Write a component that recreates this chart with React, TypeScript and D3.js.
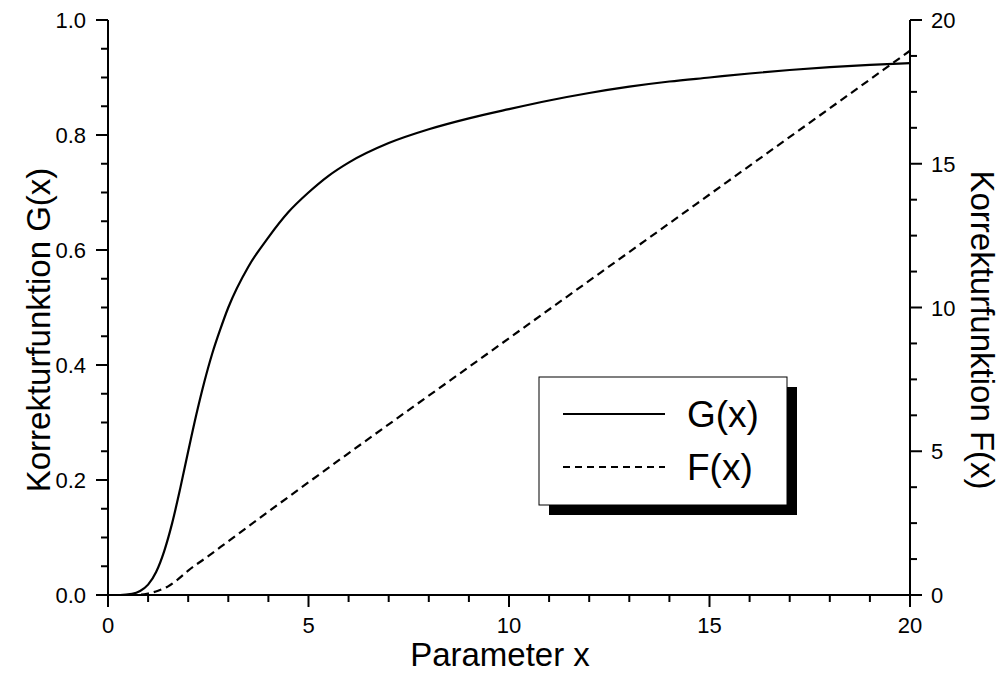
import React from "react";
import * as d3 from "d3";

// G(x)
const gX = [0, 0.3, 0.6, 0.8, 1.0, 1.2, 1.4, 1.6, 1.8, 2.0, 2.2, 2.4, 2.6, 2.8, 3.0, 3.5, 4.0, 4.5, 5.0, 5.5, 6.0, 7.0, 8.0, 9.0, 10, 11, 12, 13, 14, 15, 16, 17, 18, 19, 20];
const gY = [0, 0, 0.002, 0.007, 0.018, 0.04, 0.076, 0.125, 0.185, 0.25, 0.313, 0.37, 0.42, 0.462, 0.5, 0.571, 0.622, 0.666, 0.7, 0.729, 0.752, 0.786, 0.81, 0.829, 0.845, 0.86, 0.873, 0.884, 0.893, 0.9, 0.907, 0.913, 0.918, 0.922, 0.925];

// F(x)
const fX = [0.5, 0.8, 1.0, 1.25, 1.5, 1.75, 2.0, 2.5, 3.0, 4.0, 5.0, 10, 15, 20];
const fY = [0, 0.01, 0.05, 0.15, 0.3, 0.55, 0.85, 1.35, 1.87, 2.9, 3.92, 8.93, 13.93, 18.93];

const xTicks = [0, 5, 10, 15, 20];
const leftTicks = [0, 0.2, 0.4, 0.6, 0.8, 1.0];
const rightTicks = [0, 5, 10, 15, 20];

const legendItems = [
  { label: "G(x)", dash: "none" },
  { label: "F(x)", dash: "7,5" },
];

const FONT = "'Liberation Sans', Arial, Helvetica, sans-serif";

const App = () => {
  const width = 1003;
  const height = 675;
  const left = 108;
  const right = 910;
  const top = 20;
  const bottom = 595;

  const x = d3.scaleLinear().domain([0, 20]).range([left, right]);
  const yL = d3.scaleLinear().domain([0, 1]).range([bottom, top]);
  const yR = d3.scaleLinear().domain([0, 20]).range([bottom, top]);

  const gLine = d3
    .line<number>()
    .x((_, i) => x(gX[i]))
    .y((d) => yL(d))
    .curve(d3.curveMonotoneX);
  const fLine = d3
    .line<number>()
    .x((_, i) => x(fX[i]))
    .y((d) => yR(d))
    .curve(d3.curveMonotoneX);

  const xMinor = d3.range(0, 20.001, 1).filter((v) => v % 5 !== 0);
  const lMinor = d3.range(0, 1.0001, 0.05).filter((v) => Math.abs(v / 0.2 - Math.round(v / 0.2)) > 0.01);
  const rMinor = d3.range(0, 20.001, 1.25).filter((v) => v % 5 !== 0);

  const major = 12;
  const minor = 7;

  // legend box
  const lg = { x: 539, y: 377, w: 248, h: 128, shadow: 10 };

  return (
    <svg
      width={width}
      height={height}
      style={{ position: "absolute", left: 0, top: 0, background: "#fff" }}
      fontFamily={FONT}
    >
      <rect width={width} height={height} fill="#fff" />

      {/* curves */}
      <path d={gLine(gY) ?? ""} fill="none" stroke="#000" strokeWidth={2.2} />
      <path d={fLine(fY) ?? ""} fill="none" stroke="#000" strokeWidth={2.2} strokeDasharray="8,5" />

      {/* axes lines */}
      <g stroke="#000" strokeWidth={2} fill="none">
        <line x1={left} x2={right} y1={bottom} y2={bottom} />
        <line x1={left} x2={left} y1={top} y2={bottom} />
        <line x1={right} x2={right} y1={top} y2={bottom} />
        {xTicks.map((t) => (
          <line key={"xm" + t} x1={x(t)} x2={x(t)} y1={bottom} y2={bottom + major} />
        ))}
        {xMinor.map((t) => (
          <line key={"xn" + t} x1={x(t)} x2={x(t)} y1={bottom} y2={bottom + minor} />
        ))}
        {leftTicks.map((t) => (
          <line key={"lm" + t} x1={left - major} x2={left} y1={yL(t)} y2={yL(t)} />
        ))}
        {lMinor.map((t) => (
          <line key={"ln" + t} x1={left - minor} x2={left} y1={yL(t)} y2={yL(t)} />
        ))}
        {rightTicks.map((t) => (
          <line key={"rm" + t} x1={right} x2={right + major} y1={yR(t)} y2={yR(t)} />
        ))}
        {rMinor.map((t) => (
          <line key={"rn" + t} x1={right} x2={right + minor} y1={yR(t)} y2={yR(t)} />
        ))}
      </g>

      {/* tick labels */}
      <g fontSize={22} fill="#000">
        {xTicks.map((t) => (
          <text key={"xt" + t} x={x(t)} y={633} textAnchor="middle">
            {t}
          </text>
        ))}
        {leftTicks.map((t) => (
          <text key={"lt" + t} x={86} y={yL(t) + 8} textAnchor="end">
            {t.toFixed(1)}
          </text>
        ))}
        {rightTicks.map((t) => (
          <text key={"rt" + t} x={931} y={yR(t) + 8} textAnchor="start">
            {t}
          </text>
        ))}
      </g>

      {/* axis titles */}
      <g fontSize={33} fill="#000">
        <text x={500} y={666} textAnchor="middle">
          Parameter x
        </text>
        <text transform={`translate(50,330) rotate(-90)`} textAnchor="middle">
          Korrekturfunktion G(x)
        </text>
        <text transform={`translate(971,330) rotate(90)`} textAnchor="middle">
          Korrekturfunktion F(x)
        </text>
      </g>

      {/* legend */}
      <rect x={lg.x + lg.shadow} y={lg.y + lg.shadow} width={lg.w} height={lg.h} fill="#000" />
      <rect x={lg.x} y={lg.y} width={lg.w} height={lg.h} fill="#fff" stroke="#000" strokeWidth={1} />
      {legendItems.map((d, i) => (
        <g key={d.label} transform={`translate(${lg.x},${lg.y + 37 + i * 53})`}>
          <line x1={24} x2={126} y1={0} y2={0} stroke="#000" strokeWidth={2} strokeDasharray={d.dash} />
          <text x={148} y={13} fontSize={37} fill="#000">
            {d.label}
          </text>
        </g>
      ))}
    </svg>
  );
};

export default App;
